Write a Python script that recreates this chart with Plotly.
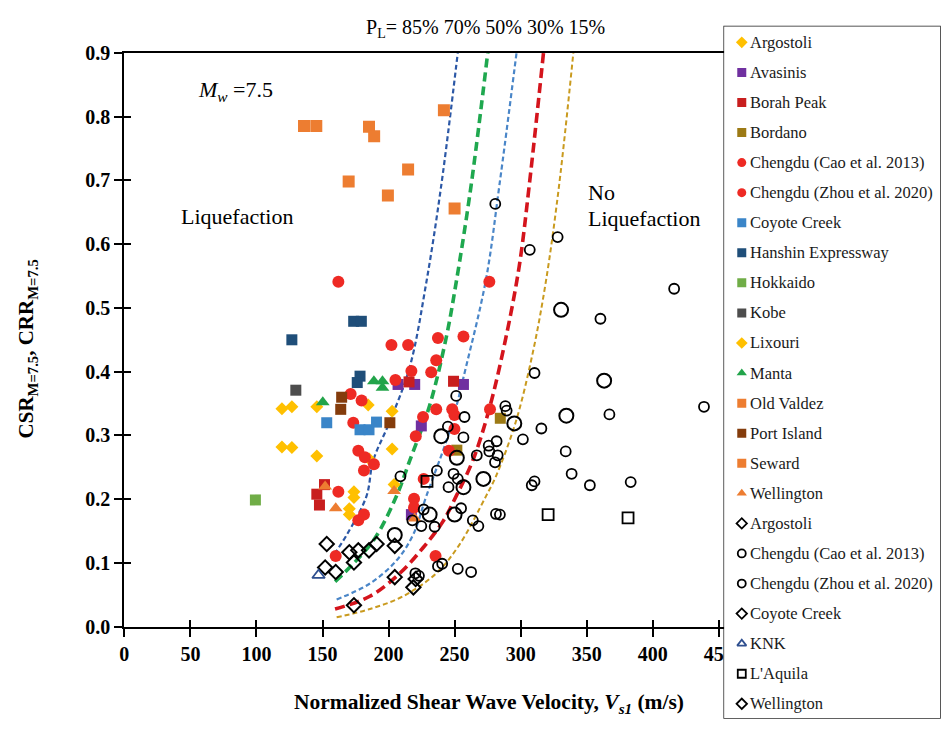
import plotly.graph_objects as go

W, H = 941, 731
SERIF = "Liberation Serif"

# ---------------- liquefaction case histories (filled) ----------------
argostoli_vs = [184.6, 202.7, 202.7, 185.4, 204.2, 173.8, 173.8, 170.3, 170.3]
argostoli_csr = [0.348, 0.338, 0.279, 0.263, 0.223, 0.212, 0.203, 0.185, 0.176]
avasinis_vs = [207.2, 219.8, 256.7, 224.8, 217.3]
avasinis_csr = [0.380, 0.380, 0.380, 0.315, 0.176]
borah_vs = [151.5, 145.7, 147.7, 215.5, 249.2]
borah_csr = [0.223, 0.208, 0.191, 0.384, 0.385]
bordano_vs = [284.6, 251.7]
bordano_csr = [0.327, 0.277]
cao_vs = [162.0, 202.2, 214.8, 236.1, 217.3, 205.2, 171.3, 179.6, 226.1, 173.3, 220.6,
          177.1, 182.1, 188.9, 181.4, 162.0, 219.3, 219.3, 177.1, 181.4, 160.0]
cao_csr = [0.541, 0.442, 0.442, 0.418, 0.401, 0.387, 0.365, 0.355, 0.329, 0.320, 0.299,
           0.276, 0.266, 0.255, 0.245, 0.212, 0.201, 0.187, 0.167, 0.176, 0.111]
zhou_vs = [276.3, 237.4, 256.7, 232.3, 236.1, 248.2, 276.8, 249.9, 249.9, 245.7, 226.6, 235.6]
zhou_csr = [0.541, 0.453, 0.455, 0.399, 0.341, 0.341, 0.341, 0.332, 0.310, 0.276, 0.232, 0.111]
coyote_vs = [153.2, 178.4, 185.2, 190.9]
coyote_csr = [0.320, 0.309, 0.309, 0.321]
hanshin_vs = [126.8, 173.6, 179.4, 178.4, 176.3]
hanshin_csr = [0.450, 0.479, 0.479, 0.393, 0.383]
hokkaido_vs = [99.2]
hokkaido_csr = [0.199]
kobe_vs = [129.8]
kobe_csr = [0.371]
lixouri_vs = [119.3, 126.8, 119.3, 126.8, 145.7, 145.7]
lixouri_csr = [0.342, 0.345, 0.282, 0.281, 0.345, 0.268]
manta_vs = [150.2, 188.9, 195.4, 195.4]
manta_csr = [0.352, 0.385, 0.385, 0.375]
valdez_vs = [214.8, 169.8, 199.5, 250.0]
valdez_csr = [0.717, 0.698, 0.676, 0.656]
port_vs = [164.5, 163.8, 201.0]
port_csr = [0.360, 0.341, 0.320]
seward_vs = [136.0, 145.3, 185.2, 189.1, 241.9]
seward_csr = [0.785, 0.785, 0.784, 0.769, 0.810]
wellington_vs = [152.0, 160.0, 204.2, 219.8]
wellington_csr = [0.220, 0.186, 0.213, 0.170]

# ---------------- no-liquefaction case histories (open) ----------------
argostoli_nl_vs = [153.2, 170.3, 177.1, 185.2, 190.9, 204.7]
argostoli_nl_csr = [0.130, 0.117, 0.120, 0.120, 0.130, 0.127]
cao_nl_vs = [330.6, 363.2, 334.6, 295.2, 239.9, 251.7, 271.8, 256.7, 231.1, 250.0, 204.7]
cao_nl_csr = [0.497, 0.386, 0.331, 0.319, 0.299, 0.265, 0.232, 0.219, 0.176, 0.176, 0.144]
zhou_nl_vs = [280.8, 328.0, 306.9, 416.2, 360.4, 310.5, 438.8, 367.2, 315.7, 301.7, 334.1,
              338.6, 310.5, 308.4, 352.4, 383.3, 251.2, 257.5, 244.9, 256.7, 288.4, 289.4,
              266.8, 275.8, 281.8, 276.3, 282.6, 280.6, 236.6, 209.0, 249.2, 252.4, 245.4,
              218.0, 224.8, 226.6, 234.9, 254.9, 263.8, 268.0, 281.3, 284.3, 220.3, 223.0,
              237.4, 240.6, 252.4, 262.5]
zhou_nl_csr = [0.663, 0.611, 0.591, 0.530, 0.483, 0.398, 0.345, 0.333, 0.311, 0.294, 0.275,
               0.240, 0.228, 0.222, 0.222, 0.227, 0.362, 0.329, 0.314, 0.297, 0.346, 0.339,
               0.269, 0.284, 0.291, 0.275, 0.269, 0.258, 0.245, 0.236, 0.240, 0.232, 0.219,
               0.167, 0.158, 0.184, 0.157, 0.186, 0.167, 0.158, 0.177, 0.176, 0.084, 0.080,
               0.095, 0.099, 0.091, 0.086]
coyote_nl_vs = [173.8, 152.0, 160.0, 204.7]
coyote_nl_csr = [0.101, 0.093, 0.086, 0.078]
knk_vs = [147.0]
knk_csr = [0.081]
laquila_vs = [229.1, 320.8, 381.3]
laquila_csr = [0.228, 0.176, 0.171]
wellington_nl_vs = [173.8, 220.5, 218.8]
wellington_nl_csr = [0.034, 0.075, 0.062]

# ---------------- probability-of-liquefaction boundary curves ----------------
pl_labels = ["85%", "70%", "50%", "30%", "15%"]
pl85_vs = [159.5, 160.7, 168.3, 183.3, 188.4, 201.0, 216.1, 228.6, 239.9, 252.4]
pl85_crr = [0.114, 0.119, 0.144, 0.205, 0.261, 0.322, 0.408, 0.540, 0.692, 0.900]
pl70_vs = [159.5, 173.3, 189.7, 206.0, 216.1, 231.1, 243.6, 251.2, 262.5, 275.1]
pl70_crr = [0.071, 0.099, 0.139, 0.205, 0.261, 0.347, 0.453, 0.540, 0.692, 0.900]
pl50_vs = [160.7, 185.9, 206.0, 218.5, 228.6, 246.2, 258.7, 273.8, 283.9, 296.9]
pl50_crr = [0.043, 0.068, 0.104, 0.144, 0.205, 0.307, 0.408, 0.545, 0.692, 0.900]
pl30_vs = [159.5, 185.9, 208.5, 226.1, 241.1, 251.2, 263.8, 276.3, 288.8, 298.9, 306.5, 317.3]
pl30_crr = [0.028, 0.048, 0.084, 0.124, 0.165, 0.205, 0.261, 0.342, 0.453, 0.565, 0.692, 0.900]
pl15_vs = [160.7, 185.9, 211.0, 236.1, 253.7, 273.8, 281.3, 296.4, 309.0, 319.0, 329.1, 339.9]
pl15_crr = [0.015, 0.028, 0.048, 0.084, 0.129, 0.205, 0.236, 0.322, 0.428, 0.540, 0.692, 0.900]

x_ticks = [0, 50, 100, 150, 200, 250, 300, 350, 400, 450]
y_ticks = [0.0, 0.1, 0.2, 0.3, 0.4, 0.5, 0.6, 0.7, 0.8, 0.9]

# curve styles: (x, y, colour, width, dash)
curves = [
    (pl85_vs, pl85_crr, "#2c58a6", 2.2, "5px,3px"),
    (pl70_vs, pl70_crr, "#1fa84f", 3.6, "9px,5px"),
    (pl50_vs, pl50_crr, "#4a86c8", 2.2, "5px,3px"),
    (pl30_vs, pl30_crr, "#d4141c", 3.6, "10px,5px"),
    (pl15_vs, pl15_crr, "#c99a1e", 2.0, "5px,3px"),
]

# series: (legend name, x, y, symbol, colour, size, line width)
YEL, ORA = "#ffc000", "#ed7d31"
series = [
    ("Argostoli", argostoli_vs, argostoli_csr, "diamond", YEL, 10, 0),
    ("Avasinis", avasinis_vs, avasinis_csr, "square", "#7030a0", 11, 0),
    ("Borah Peak", borah_vs, borah_csr, "square", "#c81e1e", 11, 0),
    ("Bordano", bordano_vs, bordano_csr, "square", "#9c7a15", 11, 0),
    ("Chengdu (Cao et al. 2013)", cao_vs, cao_csr, "circle", "#ee2a24", 12, 0),
    ("Chengdu (Zhou et al. 2020)", zhou_vs, zhou_csr, "circle", "#ee2a24", 12, 0),
    ("Coyote Creek", coyote_vs, coyote_csr, "square", "#3a85c8", 11, 0),
    ("Hanshin Expressway", hanshin_vs, hanshin_csr, "square", "#1f4e79", 11, 0),
    ("Hokkaido", hokkaido_vs, hokkaido_csr, "square", "#70ad47", 11, 0),
    ("Kobe", kobe_vs, kobe_csr, "square", "#4d4d4d", 11, 0),
    ("Lixouri", lixouri_vs, lixouri_csr, "diamond", YEL, 10, 0),
    ("Manta", manta_vs, manta_csr, "triangle-up", "#22a44a", 12, 0),
    ("Old Valdez", valdez_vs, valdez_csr, "square", ORA, 12, 0),
    ("Port Island", port_vs, port_csr, "square", "#843c0c", 11, 0),
    ("Seward", seward_vs, seward_csr, "square", ORA, 12, 0),
    ("Wellington", wellington_vs, wellington_csr, "triangle-up", ORA, 12, 0),
    ("Argostoli", argostoli_nl_vs, argostoli_nl_csr, "diamond-open", "black", 11, 2),
    ("Chengdu (Cao et al. 2013)", cao_nl_vs, cao_nl_csr, "circle-open", "black", 14, 2),
    ("Chengdu (Zhou et al. 2020)", zhou_nl_vs, zhou_nl_csr, "circle-open", "black", 10, 1.8),
    ("Coyote Creek", coyote_nl_vs, coyote_nl_csr, "diamond-open", "black", 11, 2),
    ("KNK", knk_vs, knk_csr, "triangle-up-open", "#2f4f8f", 11, 1.8),
    ("L'Aquila", laquila_vs, laquila_csr, "square-open", "black", 11, 1.8),
    ("Wellington", wellington_nl_vs, wellington_nl_csr, "diamond-open", "black", 11, 2),
]

fig = go.Figure()

for xs, ys, col, wd, dash in curves:
    fig.add_trace(go.Scatter(x=xs, y=ys, mode="lines", showlegend=False, hoverinfo="skip",
                             line=dict(color=col, width=wd, dash=dash, shape="spline", smoothing=1.0)))

for name, xs, ys, sym, col, size, lw in series:
    fig.add_trace(go.Scatter(x=xs, y=ys, mode="markers", name=name, showlegend=False,
                             marker=dict(symbol=sym, color=col, size=size,
                                         line=dict(color=col, width=lw))))

# companion axes carrying the inner half of the crossing tick marks
fig.add_trace(go.Scatter(x=[None], y=[None], xaxis="x2", yaxis="y2", showlegend=False,
                         hoverinfo="skip"))

# ---------------- legend panel ----------------
box_l, box_r, box_t, box_b = 723, 940, 16, 729
row0, row_step = 16.3, 31.0
leg_y = [row0 + row_step * i for i in range(len(series))]
for i, (name, xs, ys, sym, col, size, lw) in enumerate(series):
    fig.add_trace(go.Scatter(x=[17.7], y=[leg_y[i]], xaxis="x3", yaxis="y3", mode="markers",
                             showlegend=False, hoverinfo="skip",
                             marker=dict(symbol=sym, color=col, size=9 if lw == 0 else 8,
                                         line=dict(color=col, width=0 if lw == 0 else 1.8))))
    fig.add_annotation(text=name, x=24.0, y=leg_y[i], xref="x3", yref="y3",
                       xanchor="left", yanchor="middle", showarrow=False,
                       font=dict(family=SERIF, size=16.5, color="#1a1a1a"))

x_dom = [120 / W, 784 / W]
y_dom = [1 - 635 / H, 1 - 43 / H]
tickfont = dict(family=SERIF, size=20, color="black", weight="bold")

fig.update_layout(
    width=W, height=H,
    margin=dict(l=0, r=0, t=0, b=0),
    paper_bgcolor="white", plot_bgcolor="white",
    xaxis=dict(domain=x_dom, range=[0, 500], tickvals=x_ticks, ticks="outside", ticklen=8,
               tickwidth=1.5, tickcolor="black", showline=True, linecolor="black", linewidth=2,
               mirror=True, showgrid=False, zeroline=False, tickfont=tickfont),
    yaxis=dict(domain=y_dom, range=[0, 0.9], tickvals=y_ticks, tickformat=".1f", ticks="outside",
               ticklen=8, tickwidth=1.5, tickcolor="black", showline=True, linecolor="black",
               linewidth=2, showgrid=False, zeroline=False, tickfont=tickfont),
    xaxis2=dict(overlaying="x", anchor="y", range=[0, 500], tickvals=x_ticks, ticks="inside",
                ticklen=7, tickwidth=1.5, tickcolor="black", showticklabels=False,
                showline=False, showgrid=False, zeroline=False),
    yaxis2=dict(overlaying="y", anchor="x", range=[0, 0.9], tickvals=y_ticks, ticks="inside",
                ticklen=7, tickwidth=1.5, tickcolor="black", showticklabels=False,
                showline=False, showgrid=False, zeroline=False),
    xaxis3=dict(domain=[box_l / W, box_r / W], range=[0, box_r - box_l], visible=False,
                anchor="y3"),
    yaxis3=dict(domain=[1 - box_b / H, 1 - box_t / H], range=[box_b - box_t, 0], visible=False,
                anchor="x3"),
    shapes=[dict(type="rect", xref="x3 domain", yref="y3 domain", x0=0, x1=1, y0=0, y1=1,
                 fillcolor="white", line=dict(color="#222222", width=1.5), layer="below")],
    showlegend=False,
)

def note(text, x, y, size, xanchor="center", angle=0, bold=False):
    fig.add_annotation(text=text, x=x / W, y=1 - y / H, xref="paper", yref="paper",
                       xanchor=xanchor, yanchor="middle", showarrow=False, textangle=angle,
                       font=dict(family=SERIF, size=size, color="black",
                                 weight="bold" if bold else "normal"))

note("P<sub>L</sub>= " + " ".join(pl_labels), 483, 18, 20)
note("<i>M<sub>w</sub></i> =7.5", 192, 82, 22, xanchor="left")
note("Liquefaction", 175, 212, 22, xanchor="left")
note("No", 584, 187, 22, xanchor="left")
note("Liquefaction", 584, 214, 22, xanchor="left")
note("CSR<sub>M=7.5</sub>, CRR<sub>M=7.5</sub>", 22, 348, 21, angle=-90, bold=True)
note("Normalized Shear Wave Velocity, <i>V<sub>s1</sub></i> (m/s)", 487, 714, 21.5, bold=True)

fig.write_html("out.html")
